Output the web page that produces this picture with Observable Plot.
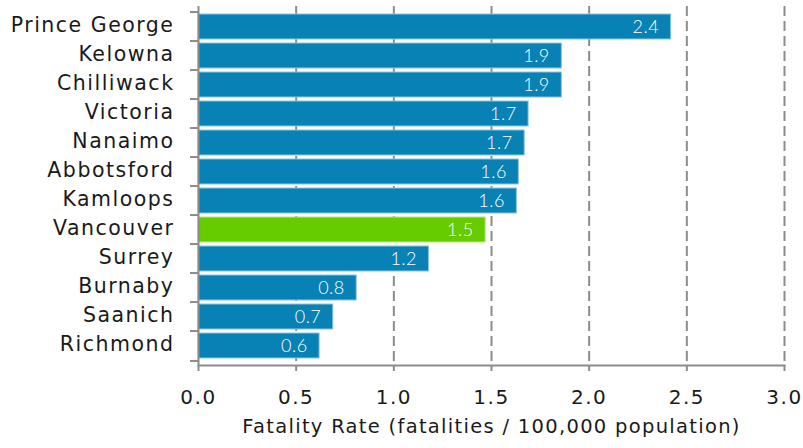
<!DOCTYPE html>
<html>
<head>
<meta charset="utf-8">
<script src="https://cdn.jsdelivr.net/npm/d3@7"></script>
<script src="https://cdn.jsdelivr.net/npm/@observablehq/plot@0.6"></script>
<style>
  html, body { margin: 0; padding: 0; background: #fff; }
  #chart svg { display: block; }
  #chart svg text { letter-spacing: 1.5px; }
  #chart svg g.values text { letter-spacing: 0.5px; }
  #chart svg g.xtitle text { letter-spacing: 1.3px; }
</style>
</head>
<body>
<div id="chart"></div>
<script>
// Road fatality rate by city (fatalities per 100,000 population)
const cities = ["Prince George", "Kelowna", "Chilliwack", "Victoria", "Nanaimo", "Abbotsford",
                "Kamloops", "Vancouver", "Surrey", "Burnaby", "Saanich", "Richmond"];
const rates = [2.42, 1.86, 1.86, 1.69, 1.67, 1.64, 1.63, 1.47, 1.18, 0.81, 0.69, 0.62];
const highlight = ["Vancouver"];
const xTicks = [0, 0.5, 1.0, 1.5, 2.0, 2.5, 3.0];
const xTitle = "Fatality Rate (fatalities / 100,000 population)";

const data = cities.map((city, i) => ({city, rate: rates[i]}));

const W = 803, H = 448;
const mTop = 6, mBottom = 83, mLeft = 198, mRight = 19;
const step = (H - mTop - mBottom) / cities.length;
const gray = "#8c8c8c";
const ink = "#1a1a1a";
const labelFont = "'DejaVu Sans', sans-serif";

const chart = Plot.plot({
  width: W,
  height: H,
  marginTop: mTop,
  marginBottom: mBottom,
  marginLeft: mLeft,
  marginRight: mRight,
  style: {fontFamily: labelFont, background: "#fff"},
  x: {domain: [0, 3], label: null},
  y: {domain: cities, padding: 0, label: null},
  marks: [
    // dashed vertical gridlines
    Plot.ruleX(xTicks.slice(1), {stroke: gray, strokeWidth: 2, strokeDasharray: "10,5"}),
    // bars
    Plot.barX(data, {
      x: "rate",
      y: "city",
      fill: d => highlight.includes(d.city) ? "#66cc00" : "#0881b4",
      stroke: d => highlight.includes(d.city) ? "#b5e58a" : "#8cc4de",
      strokeWidth: 1,
      insetTop: 2,
      insetBottom: 2
    }),
    // value labels inside bar ends
    Plot.text(data, {
      x: "rate",
      y: "city",
      text: d => d3.format(".1f")(d.rate),
      textAnchor: "end",
      dx: -12,
      fill: "white",
      fontSize: 18,
      fontWeight: 300,
      fontFamily: "Lato, sans-serif",
      className: "values"
    }),
    // axis lines
    Plot.ruleX([0], {stroke: gray, strokeWidth: 2}),
    Plot.frame({anchor: "bottom", stroke: gray, strokeWidth: 2}),
    // category labels
    Plot.axisY({tickSize: 0, tickPadding: 24, fontSize: 20.5, fill: ink, dy: -2, label: null}),
    // tick marks on the band boundaries
    Plot.axisY({tickSize: 8, text: null, stroke: gray, strokeWidth: 2, dy: -step / 2, label: null}),
    Plot.axisY({ticks: cities.slice(-1), tickSize: 8, text: null, stroke: gray, strokeWidth: 2, dy: step / 2, label: null}),
    // x axis
    Plot.axisX({ticks: xTicks, tickSize: 6, tickPadding: 18, tickFormat: d3.format(".1f"),
                stroke: gray, strokeWidth: 2, fontSize: 20, fill: ink, label: null}),
    Plot.text([xTitle], {frameAnchor: "bottom", lineAnchor: "bottom", dy: 67,
                         fontSize: 19.5, fill: ink, className: "xtitle"})
  ]
});

document.getElementById("chart").appendChild(chart);
</script>
</body>
</html>
